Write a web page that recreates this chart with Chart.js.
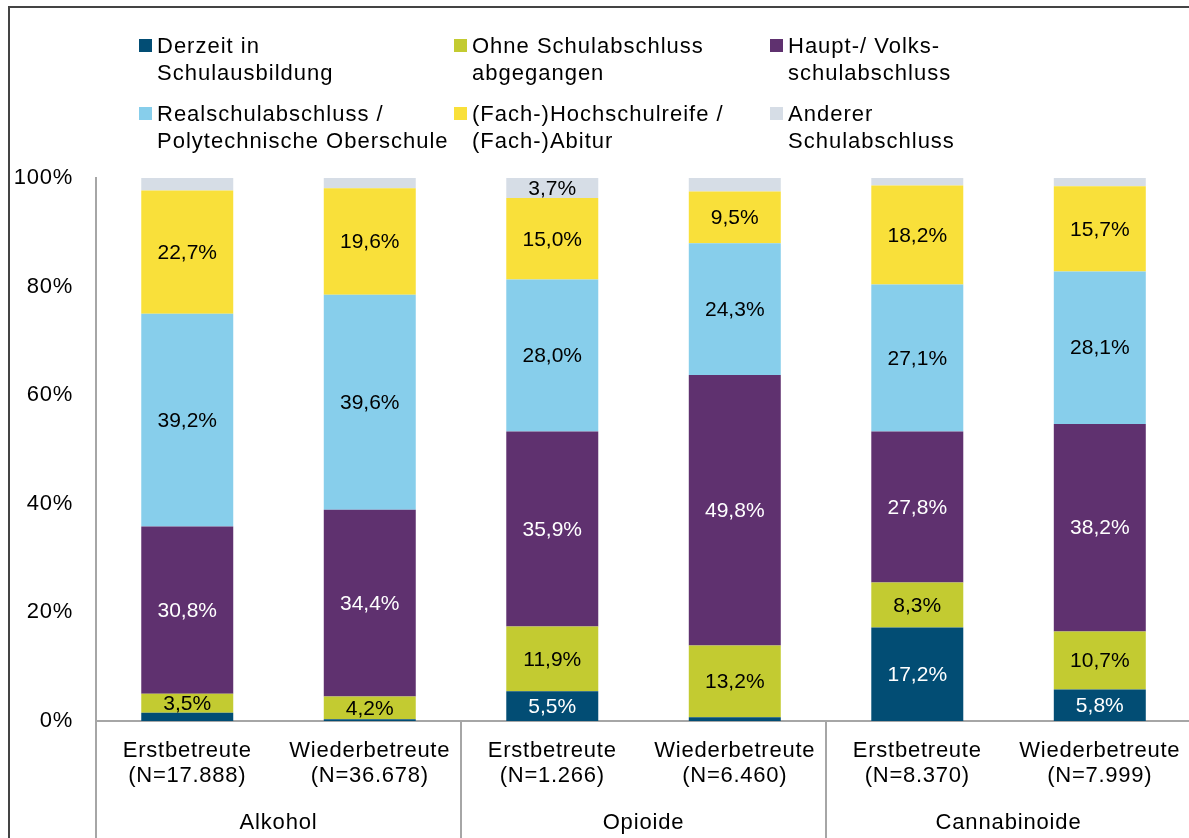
<!DOCTYPE html>
<html>
<head>
<meta charset="utf-8">
<script src="https://cdn.jsdelivr.net/npm/chart.js@4/dist/chart.umd.min.js"></script>
<style>
  html, body { margin: 0; padding: 0; background: #fff; overflow: hidden; }
  #wrap { position: absolute; left: 0; top: 0; width: 1192px; height: 838px; }
  #frame { position: absolute; left: 8px; top: 6px; width: 3000px; height: 3000px;
           border-left: 2px solid #444; border-top: 2px solid #444; pointer-events: none; }
</style>
</head>
<body>
<div id="wrap"><canvas id="c"></canvas></div>
<div id="frame"></div>
<script>
// ---- data ----
const categories = [
  ["Erstbetreute", "(N=17.888)"],
  ["Wiederbetreute", "(N=36.678)"],
  ["Erstbetreute", "(N=1.266)"],
  ["Wiederbetreute", "(N=6.460)"],
  ["Erstbetreute", "(N=8.370)"],
  ["Wiederbetreute", "(N=7.999)"]
];
const groups = ["Alkohol", "Opioide", "Cannabinoide"];
const seriesNames = [
  ["Derzeit in", "Schulausbildung"],
  ["Ohne Schulabschluss", "abgegangen"],
  ["Haupt-/ Volks-", "schulabschluss"],
  ["Realschulabschluss /", "Polytechnische Oberschule"],
  ["(Fach-)Hochschulreife /", "(Fach-)Abitur"],
  ["Anderer", "Schulabschluss"]
];
const derzeit   = [1.5, 0.3, 5.5, 0.7, 17.2, 5.8];
const ohne      = [3.5, 4.2, 11.9, 13.2, 8.3, 10.7];
const haupt     = [30.8, 34.4, 35.9, 49.8, 27.8, 38.2];
const real      = [39.2, 39.6, 28.0, 24.3, 27.1, 28.1];
const fach      = [22.7, 19.6, 15.0, 9.5, 18.2, 15.7];
const anderer   = [2.3, 1.9, 3.7, 2.5, 1.4, 1.5];
const yTicks    = [0, 20, 40, 60, 80, 100];

// ---- styles ----
const colors = ["#024D74", "#C3CB31", "#5F316F", "#87CEEB", "#F9E03A", "#D6DDE6"];
const labelColors = ["#fff", "#000", "#fff", "#000", "#000", "#000"];
const FONT = "'Liberation Sans', Arial, sans-serif";
const seriesValues = [derzeit, ohne, haupt, real, fach, anderer];

const datasets = seriesValues.map((vals, i) => ({
  label: seriesNames[i].join(" "),
  data: vals,
  backgroundColor: colors[i],
  borderWidth: 0,
  categoryPercentage: 1.0,
  barPercentage: 0.504
}));

const fmt = v => v.toFixed(1).replace(".", ",") + "%";

const decorPlugin = {
  id: "decor",
  beforeDraw(chart) {
    chart.ctx.letterSpacing = "0.75px";
  },
  afterDatasetsDraw(chart) {
    const ctx = chart.ctx;
    ctx.save();
    ctx.letterSpacing = "0px";
    ctx.font = "21px " + FONT;
    ctx.textAlign = "center";
    ctx.textBaseline = "middle";
    chart.data.datasets.forEach((ds, di) => {
      const meta = chart.getDatasetMeta(di);
      meta.data.forEach((bar, j) => {
        const v = ds.data[j];
        if (v < 3) return;
        const p = bar.getProps(["x", "y", "base"], true);
        ctx.fillStyle = labelColors[di];
        ctx.fillText(fmt(v), p.x, (p.y + p.base) / 2 + 1);
      });
    });
    ctx.restore();
  },
  afterDraw(chart) {
    const ctx = chart.ctx;
    const area = chart.chartArea;
    const xs = chart.scales.x;
    ctx.save();
    // group separators
    ctx.strokeStyle = "#A6A6A6";
    ctx.lineWidth = 2;
    const n = categories.length;
    const step = (area.right - area.left) / n;
    for (let g = 0; g <= groups.length; g++) {
      const x = Math.round(area.left + g * 2 * step);
      ctx.beginPath();
      ctx.moveTo(x, area.bottom);
      ctx.lineTo(x, chart.height);
      ctx.stroke();
    }
    // group labels
    ctx.fillStyle = "#000";
    ctx.font = "22px " + FONT;
    ctx.letterSpacing = "0.85px";
    ctx.textAlign = "center";
    ctx.textBaseline = "alphabetic";
    groups.forEach((g, i) => {
      const x = (xs.getPixelForValue(i * 2) + xs.getPixelForValue(i * 2 + 1)) / 2;
      ctx.fillText(g, x, 829);
    });
    // legend
    const colX = [139, 454, 770];
    const rowY = [38, 106];
    ctx.letterSpacing = "1px";
    ctx.textAlign = "left";
    seriesNames.forEach((lines, i) => {
      const c = i % 3, r = Math.floor(i / 3);
      ctx.fillStyle = colors[i];
      ctx.fillRect(colX[c], rowY[r] + 1, 13, 13);
      ctx.fillStyle = "#000";
      lines.forEach((t, k) => {
        ctx.fillText(t, colX[c] + 18, rowY[r] + 15 + k * 27);
      });
    });
    ctx.restore();
  }
};

new Chart(document.getElementById("c"), {
  type: "bar",
  data: { labels: categories, datasets },
  plugins: [decorPlugin],
  options: {
    responsive: true,
    maintainAspectRatio: false,
    animation: false,
    layout: { padding: { top: 178, left: 0, right: 0, bottom: 0 } },
    plugins: { legend: { display: false }, tooltip: { enabled: false } },
    scales: {
      x: {
        stacked: true,
        grid: { display: false, drawTicks: false },
        border: { display: true, color: "#A6A6A6", width: 2 },
        ticks: {
          color: "#000",
          font: { family: FONT, size: 22, lineHeight: 1.14 },
          padding: 17,
          maxRotation: 0,
          autoSkip: false
        },
        afterFit(s) { s.height = 117; }
      },
      y: {
        stacked: true,
        min: 0, max: 100,
        afterBuildTicks(s) { s.ticks = yTicks.map(v => ({ value: v })); },
        grid: { display: false, drawTicks: false },
        border: { display: true, color: "#A6A6A6", width: 2 },
        ticks: {
          color: "#000",
          font: { family: FONT, size: 22 },
          padding: 23,
          callback: v => v + "%"
        },
        afterFit(s) { s.width = 96; }
      }
    }
  }
});
</script>
</body>
</html>
